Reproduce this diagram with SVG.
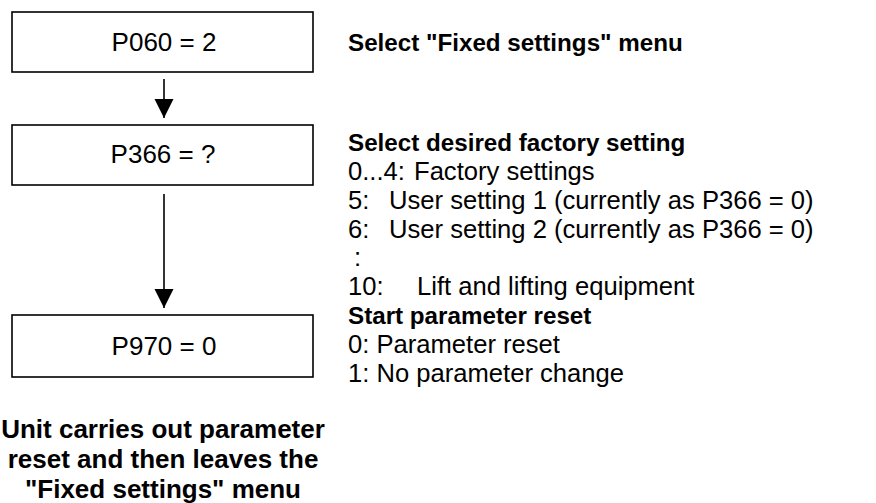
<svg xmlns="http://www.w3.org/2000/svg" width="876" height="503" viewBox="0 0 876 503">
<style>
  .box { fill: #ffffff; stroke: #000000; stroke-width: 1.6; }
  .conn { stroke: #000000; stroke-width: 1.6; fill: none; }
  .t { font-family: "Liberation Sans", Arial, sans-serif; font-size: 25.6px; fill: #000000; }
  .lbl { font-family: "Liberation Sans", Arial, sans-serif; font-size: 26px; fill: #000000; }
  .b { font-family: "Liberation Sans", Arial, sans-serif; font-size: 24.2px; font-weight: bold; fill: #000000; }
  .bb { font-family: "Liberation Sans", Arial, sans-serif; font-size: 26px; font-weight: bold; fill: #000000; }
  .c { text-anchor: middle; }
</style>
<defs>
  <marker id="arrow" markerWidth="20" markerHeight="20" refX="19" refY="9.5" orient="auto" markerUnits="userSpaceOnUse">
    <path d="M0,0 L19,9.5 L0,19 Z" fill="#000000"/>
  </marker>
</defs>
<rect width="876" height="503" fill="#ffffff"/>

<g id="node-p060">
  <rect class="box" x="12" y="12" width="301" height="60"/>
  <text class="lbl c" x="164" y="51">P060 = 2</text>
</g>
<g id="node-p366">
  <rect class="box" x="12" y="125" width="301" height="60"/>
  <text class="lbl c" x="163" y="163">P366 = ?</text>
</g>
<g id="node-p970">
  <rect class="box" x="12" y="315" width="301" height="62"/>
  <text class="lbl c" x="164" y="355">P970 = 0</text>
</g>

<g id="connectors">
  <line class="conn" x1="164" y1="79" x2="164" y2="118" marker-end="url(#arrow)"/>
  <line class="conn" x1="164" y1="194" x2="164" y2="308" marker-end="url(#arrow)"/>
</g>

<g id="notes">
  <text class="b" x="348" y="51">Select "Fixed settings" menu</text>
  <text class="b" x="348" y="151">Select desired factory setting</text>
  <text class="t" x="348" y="180">0...4:</text>
  <text class="t" x="414" y="180">Factory settings</text>
  <text class="t" x="348" y="209">5:</text>
  <text class="t" x="389" y="209">User setting 1 (currently as P366 = 0)</text>
  <text class="t" x="348" y="238">6:</text>
  <text class="t" x="389" y="238">User setting 2 (currently as P366 = 0)</text>
  <text class="t" x="354" y="266">:</text>
  <text class="t" x="348" y="295">10:</text>
  <text class="t" x="417" y="295">Lift and lifting equipment</text>
  <text class="b" x="348" y="324">Start parameter reset</text>
  <text class="t" x="348" y="353">0: Parameter reset</text>
  <text class="t" x="348" y="382">1: No parameter change</text>
</g>

<g id="result">
  <text class="bb c" x="163" y="438">Unit carries out parameter</text>
  <text class="bb c" x="163" y="468">reset and then leaves the</text>
  <text class="bb c" x="163" y="498">"Fixed settings" menu</text>
</g>
</svg>
